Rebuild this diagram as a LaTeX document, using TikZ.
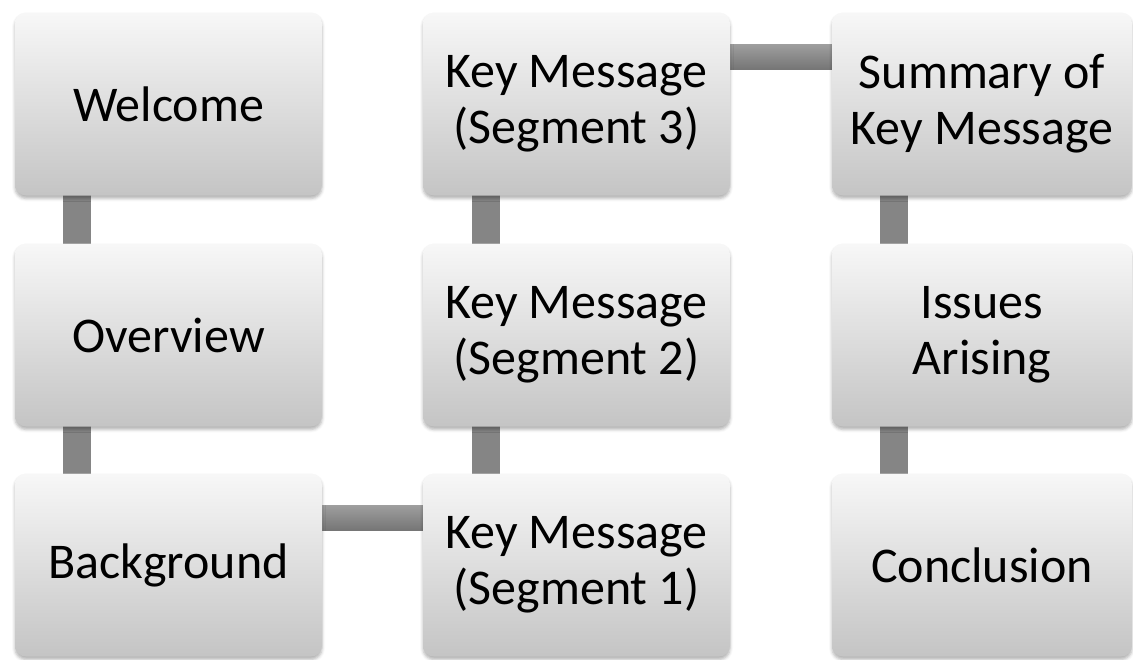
\documentclass[tikz,border=0pt]{standalone}
\usepackage{fontspec}
\setmainfont{Carlito}
\usetikzlibrary{calc,backgrounds,shadows.blur}

\tikzset{
  stage/.style={
    rectangle, rounded corners=11pt, inner sep=0pt,
    minimum width=307pt, minimum height=183pt,
    align=center, text=black,
    font=\fontsize{50}{56}\selectfont,
    top color=black!3, middle color=black!10, bottom color=black!23,
    blur shadow={shadow xshift=0pt, shadow yshift=-3pt,
                 shadow blur radius=3pt, shadow opacity=30}
  },
  narrow/.style={minimum width=300pt},
  vlink/.style={line width=28pt, draw=black!48},
  hlink/.style={top color=black!38, bottom color=black!54}
}

\begin{document}
\begin{tikzpicture}[x=1pt, y=-1pt]
  \useasboundingbox (0,0) rectangle (1133,659);

  % first column, read downwards
  \node[stage] (welcome)    at (168.5,104) {Welcome};
  \node[stage] (overview)   at (168.5,335) {Overview};
  \node[stage] (background) at (168.5,565) {Background};

  % second column, read upwards
  \node[stage] (seg1) at (576.5,565) {Key Message\\(Segment 1)};
  \node[stage] (seg2) at (576.5,335) {Key Message\\(Segment 2)};
  \node[stage] (seg3) at (576.5,104) {Key Message\\(Segment 3)};

  % third column, read downwards
  \node[stage, narrow] (summary)    at (982,104) {Summary of\\Key Message};
  \node[stage, narrow] (issues)     at (982,335) {Issues\\Arising};
  \node[stage, narrow] (conclusion) at (982,565) {Conclusion};

  \begin{scope}[on background layer]
    % vertical links
    \draw[vlink] ($(welcome.south west)+(62,-2)$)  -- ($(overview.north west)+(62,2)$);
    \draw[vlink] ($(overview.south west)+(62,-2)$) -- ($(background.north west)+(62,2)$);
    \draw[vlink] ($(seg1.north west)+(63,2)$)      -- ($(seg2.south west)+(63,-2)$);
    \draw[vlink] ($(seg2.north west)+(63,2)$)      -- ($(seg3.south west)+(63,-2)$);
    \draw[vlink] ($(summary.south west)+(62,-2)$)  -- ($(issues.north west)+(62,2)$);
    \draw[vlink] ($(issues.south west)+(62,-2)$)   -- ($(conclusion.north west)+(62,2)$);
    % horizontal links
    \shade[hlink] ($(background.north east)+(-2,32)$) rectangle ($(seg1.north west)+(2,57)$);
    \shade[hlink] ($(seg3.north east)+(-2,32)$)       rectangle ($(summary.north west)+(2,57)$);
  \end{scope}
\end{tikzpicture}
\end{document}
